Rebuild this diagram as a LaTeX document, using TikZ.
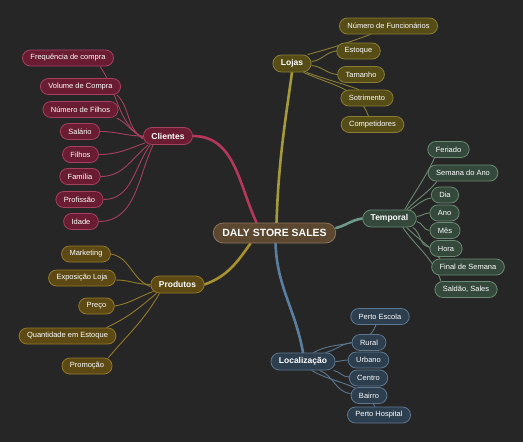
\documentclass[tikz,border=0pt]{standalone}
\usepackage{fontspec}
\setmainfont{Liberation Sans}
\usetikzlibrary{positioning}
\definecolor{canvas}{HTML}{262626}
\definecolor{rootFill}{HTML}{5C4831}
\definecolor{rootLine}{HTML}{8D7557}
\definecolor{cliFill}{HTML}{6A1C32}
\definecolor{cliLine}{HTML}{A5405E}
\definecolor{cliEdge}{HTML}{B5375B}
\definecolor{lojFill}{HTML}{564C16}
\definecolor{lojLine}{HTML}{8A7E34}
\definecolor{lojEdge}{HTML}{A39A3A}
\definecolor{tmpFill}{HTML}{34493B}
\definecolor{tmpLine}{HTML}{6B8A73}
\definecolor{tmpEdge}{HTML}{6D9A88}
\definecolor{prdFill}{HTML}{5C4913}
\definecolor{prdLine}{HTML}{957A2B}
\definecolor{prdEdge}{HTML}{A8912F}
\definecolor{locFill}{HTML}{2D3E4F}
\definecolor{locLine}{HTML}{5D7791}
\definecolor{locEdge}{HTML}{5B7F9F}
\pgfdeclarelayer{bg}
\pgfdeclarelayer{edges}
\pgfsetlayers{bg,edges,main}

\begin{document}
\begin{tikzpicture}[
  x=1pt, y=-1pt,
  leaf/.style={draw, rounded corners=8pt, minimum height=16pt, inner xsep=8pt, inner ysep=2pt,
    text=white, line width=0.8pt, font=\fontsize{7.5}{9}\selectfont},
  hub/.style={leaf, rounded corners=8.5pt, minimum height=17pt, font=\bfseries\fontsize{8.5}{10}\selectfont},
  rootBox/.style={leaf, rounded corners=10pt, minimum height=20pt, inner xsep=9pt, fill=rootFill, draw=rootLine,
    font=\bfseries\fontsize{10.5}{12}\selectfont},
  cliBox/.style={fill=cliFill, draw=cliLine},
  lojBox/.style={fill=lojFill, draw=lojLine},
  tmpBox/.style={fill=tmpFill, draw=tmpLine},
  prdBox/.style={fill=prdFill, draw=prdLine},
  locBox/.style={fill=locFill, draw=locLine},
  trunk/.style={line width=2.6pt, line cap=round},
  twig/.style={line width=0.9pt}
]
  \begin{pgfonlayer}{bg}
    \fill[canvas] (0,0) rectangle (523,442);
  \end{pgfonlayer}
  \useasboundingbox (0,0) rectangle (523,442);

  \node[rootBox] (root) at (274.5,233) {DALY STORE SALES};

  % clientes
  \node[hub, cliBox] (clientes) at (168,136) {Clientes};
  \node[leaf, cliBox] (frequencia) at (68,58) {Frequência de compra};
  \node[leaf, cliBox] (volume) at (80.5,86.5) {Volume de Compra};
  \node[leaf, cliBox] (numfilhos) at (80.5,109.5) {Número de Filhos};
  \node[leaf, cliBox] (salario) at (80,131.5) {Salário};
  \node[leaf, cliBox] (filhos) at (80.5,154.5) {Filhos};
  \node[leaf, cliBox] (familia) at (80,176.5) {Família};
  \node[leaf, cliBox] (profissao) at (79.5,199.5) {Profissão};
  \node[leaf, cliBox] (idade) at (81,221.5) {Idade};

  % lojas
  \node[hub, lojBox] (lojas) at (292,63.5) {Lojas};
  \node[leaf, lojBox] (funcionarios) at (388.5,26) {Número de Funcionários};
  \node[leaf, lojBox] (estoque) at (358.5,51) {Estoque};
  \node[leaf, lojBox] (tamanho) at (361,74.5) {Tamanho};
  \node[leaf, lojBox] (sotrimento) at (367,98) {Sotrimento};
  \node[leaf, lojBox] (competidores) at (372.5,124.5) {Competidores};

  % temporal
  \node[hub, tmpBox] (temporal) at (389.5,218.5) {Temporal};
  \node[leaf, tmpBox] (feriado) at (448.5,149.5) {Feriado};
  \node[leaf, tmpBox] (semana) at (463,173) {Semana do Ano};
  \node[leaf, tmpBox] (dia) at (445,195) {Dia};
  \node[leaf, tmpBox] (ano) at (444.5,213) {Ano};
  \node[leaf, tmpBox] (mes) at (445,230.5) {Mês};
  \node[leaf, tmpBox] (hora) at (446,248.5) {Hora};
  \node[leaf, tmpBox] (fimsemana) at (468,267) {Final de Semana};
  \node[leaf, tmpBox] (saldao) at (466,289.5) {Saldão, Sales};

  % produtos
  \node[hub, prdBox] (produtos) at (177.5,284.5) {Produtos};
  \node[leaf, prdBox] (marketing) at (86,254) {Marketing};
  \node[leaf, prdBox] (exposicao) at (82,278) {Exposição Loja};
  \node[leaf, prdBox] (preco) at (96.5,306) {Preço};
  \node[leaf, prdBox] (quantidade) at (67.5,336) {Quantidade em Estoque};
  \node[leaf, prdBox] (promocao) at (87,366) {Promoção};

  % localizacao
  \node[hub, locBox] (local) at (303,361.5) {Localização};
  \node[leaf, locBox] (escola) at (380,316.5) {Perto Escola};
  \node[leaf, locBox] (rural) at (369,342.5) {Rural};
  \node[leaf, locBox] (urbano) at (368.5,360) {Urbano};
  \node[leaf, locBox] (centro) at (368.5,378) {Centro};
  \node[leaf, locBox] (bairro) at (369,395.5) {Bairro};
  \node[leaf, locBox] (hospital) at (379,415) {Perto Hospital};

  \begin{pgfonlayer}{edges}
    % main branches
    \draw[trunk, cliEdge] ([xshift=-18pt]root.north) to[out=115,in=0] (clientes.east);
    \draw[trunk, lojEdge] ([xshift=2pt]root.north) to[out=88,in=-98] (lojas.south);
    \draw[trunk, tmpEdge] ([yshift=5pt]root.east) to[out=15,in=188] (temporal.west);
    \draw[trunk, prdEdge] ([xshift=-24pt]root.south) to[out=-125,in=20] (produtos.east);
    \draw[trunk, locEdge] ([xshift=1pt]root.south) to[out=-88,in=100] (local.north);

    % clientes
    \draw[twig, cliLine] ([yshift=-3pt]clientes.west) to[out=145,in=-55] ([xshift=-14pt]frequencia.south east);
    \draw[twig, cliLine] ([yshift=-2pt]clientes.west) to[out=150,in=-45] ([xshift=-4pt]volume.south east);
    \draw[twig, cliLine] ([yshift=-1pt]clientes.west) to[out=160,in=-25] ([xshift=-2pt]numfilhos.south east);
    \draw[twig, cliLine] (clientes.west) to[out=180,in=0] (salario.east);
    \draw[twig, cliLine] ([xshift=2pt,yshift=2pt]clientes.south west) to[out=-160,in=0] (filhos.east);
    \draw[twig, cliLine] ([xshift=5pt]clientes.south west) to[out=-140,in=0] (familia.east);
    \draw[twig, cliLine] ([xshift=7pt]clientes.south west) to[out=-125,in=0] (profissao.east);
    \draw[twig, cliLine] ([xshift=10pt]clientes.south west) to[out=-115,in=0] (idade.east);

    % lojas
    \draw[twig, lojLine] ([xshift=-4pt]lojas.north east) to[out=15,in=-160] ([xshift=-18pt]funcionarios.south);
    \draw[twig, lojLine] ([yshift=2pt]lojas.east) to[out=5,in=185] (estoque.west);
    \draw[twig, lojLine] ([yshift=-2pt]lojas.east) to[out=-5,in=175] (tamanho.west);
    \draw[twig, lojLine] ([xshift=-5pt]lojas.south east) to[out=-20,in=160] ([xshift=-8pt]sotrimento.north);
    \draw[twig, lojLine] ([xshift=-8pt]lojas.south east) to[out=-25,in=110] ([xshift=-4pt]competidores.north);

    % temporal
    \draw[twig, tmpLine] ([xshift=-12pt]temporal.north east) to[out=60,in=-115] ([xshift=-14pt]feriado.south);
    \draw[twig, tmpLine] ([xshift=-10pt]temporal.north east) to[out=45,in=-130] ([xshift=-26pt]semana.south);
    \draw[twig, tmpLine] ([xshift=-7pt]temporal.north east) to[out=30,in=190] ([yshift=-3pt]dia.west);
    \draw[twig, tmpLine] ([yshift=2pt]temporal.east) to[out=5,in=180] (ano.west);
    \draw[twig, tmpLine] ([yshift=-3pt]temporal.east) to[out=-10,in=180] (mes.west);
    \draw[twig, tmpLine] ([xshift=-4pt]temporal.south east) to[out=-30,in=185] ([yshift=2pt]hora.west);
    \draw[twig, tmpLine] ([xshift=-10pt]temporal.south east) to[out=-45,in=130] ([xshift=-28pt]fimsemana.north);
    \draw[twig, tmpLine] ([xshift=-14pt]temporal.south east) to[out=-55,in=110] ([xshift=-25pt]saldao.north);

    % produtos
    \draw[twig, prdLine] ([yshift=-2pt]produtos.west) to[out=160,in=-10] (marketing.east);
    \draw[twig, prdLine] (produtos.west) to[out=180,in=0] ([yshift=-2pt]exposicao.east);
    \draw[twig, prdLine] ([xshift=3pt,yshift=2pt]produtos.south west) to[out=-160,in=10] (preco.east);
    \draw[twig, prdLine] ([xshift=6pt]produtos.south west) to[out=-140,in=25] ([xshift=-10pt]quantidade.north east);
    \draw[twig, prdLine] ([xshift=9pt]produtos.south west) to[out=-120,in=50] ([xshift=-4pt]promocao.north east);

    % localizacao
    \draw[twig, locLine] ([xshift=-22pt]local.north east) to[out=30,in=-110] ([xshift=-4pt]escola.south);
    \draw[twig, locLine] ([xshift=-10pt]local.north east) to[out=15,in=190] (rural.west);
    \draw[twig, locLine] (local.east) to[out=0,in=180] (urbano.west);
    \draw[twig, locLine] ([xshift=-2pt]local.south east) to[out=-10,in=180] ([yshift=1pt]centro.west);
    \draw[twig, locLine] ([xshift=-16pt]local.south east) to[out=-20,in=175] ([yshift=2pt]bairro.west);
    \draw[twig, locLine] ([xshift=-24pt]local.south east) to[out=-30,in=120] ([xshift=-4pt]hospital.north);
  \end{pgfonlayer}
\end{tikzpicture}
\end{document}
